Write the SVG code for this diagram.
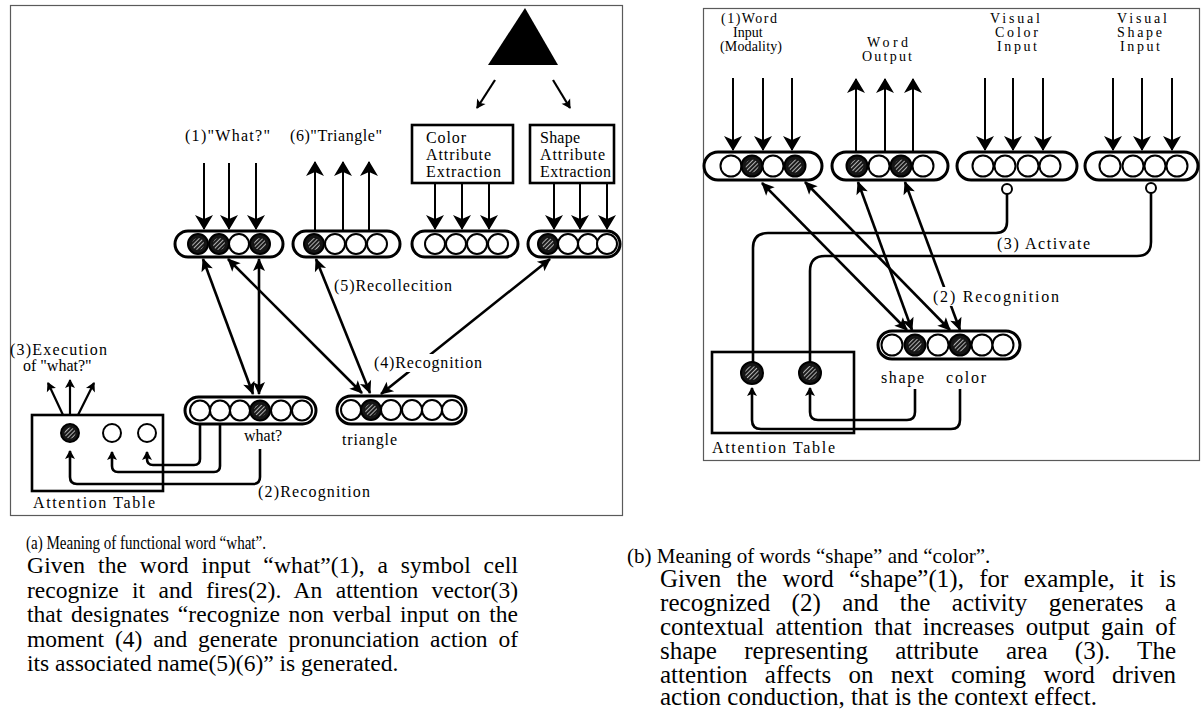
<svg xmlns="http://www.w3.org/2000/svg" width="1202" height="711" viewBox="0 0 1202 711">
  <style>
    .frame { fill: none; stroke: #5a5a5a; stroke-width: 1.2; }
    .cap { fill: #fff; stroke: #000; stroke-width: 3; }
    .cell { fill: #fff; stroke: #000; stroke-width: 2; }
    .hcell { fill: #151515; stroke: #000; stroke-width: 2; }
    .hatch { fill: url(#hatch); }
    .box { fill: #fff; stroke: #000; stroke-width: 2.6; }
    .gate { fill: #fff; stroke: #000; stroke-width: 2; }
    .in { fill: none; stroke: #000; stroke-width: 2; marker-end: url(#ahL); }
    .dbl { fill: none; stroke: #000; stroke-width: 2.6; marker-start: url(#ahM); marker-end: url(#ahM); }
    .wire { fill: none; stroke: #000; stroke-width: 2.6; }
    .wire-a { fill: none; stroke: #000; stroke-width: 2.6; marker-end: url(#ahS); }
    .sm { fill: none; stroke: #000; stroke-width: 2.2; marker-end: url(#ahS); }
    text { font-family: "Liberation Serif", "Times New Roman", serif; fill: #000; }
    .l16 { font-size: 16px; }
    .l14 { font-size: 14px; }
    .ttl-a { font-size: 19.5px; }
    .ttl-b { font-size: 21px; }
    .body-a { font-size: 23.5px; }
    .body-b { font-size: 25px; }
    .bg { fill: #fff; }
  </style>
  <defs>
    <pattern id="hatch" width="3" height="3" patternUnits="userSpaceOnUse" patternTransform="rotate(45)">
      <rect width="3" height="3" fill="#1a1a1a"/>
      <rect width="1" height="3" fill="#b0b0b0"/>
    </pattern>
    <marker id="ahL" viewBox="-17 -10 19 20" refX="-1" refY="0" markerWidth="19" markerHeight="20" markerUnits="userSpaceOnUse" orient="auto">
      <path d="M0,0 L-15,-9 L-11,0 L-15,9 Z" fill="#000"/>
    </marker>
    <marker id="ahM" viewBox="-15 -8 17 16" refX="-1" refY="0" markerWidth="17" markerHeight="16" markerUnits="userSpaceOnUse" orient="auto-start-reverse">
      <path d="M0,0 L-13,-6 L-10,0 L-13,6 Z" fill="#000"/>
    </marker>
    <marker id="ahS" viewBox="-11 -6 12 12" refX="-1" refY="0" markerWidth="12" markerHeight="12" markerUnits="userSpaceOnUse" orient="auto">
      <path d="M0,0 L-9,-5 L-7,0 L-9,5 Z" fill="#000"/>
    </marker>
  </defs>

  <rect width="1202" height="711" fill="#fff"/>

  <!-- panel frames -->
  <rect class="frame" x="10.5" y="5.5" width="612" height="510"/>
  <rect class="frame" x="703.5" y="8.5" width="496" height="452"/>

  <!-- ===== panel (a) nodes ===== -->
  <g id="object-triangle">
    <polygon points="525,8 488,65 558,65" fill="#000"/>
  </g>

  <g id="color-extraction">
    <rect class="box" x="412" y="125" width="101" height="58"/>
    <text class="l16" x="426" y="143" textLength="40" lengthAdjust="spacing">Color</text>
    <text class="l16" x="426" y="160" textLength="65" lengthAdjust="spacing">Attribute</text>
    <text class="l16" x="426" y="177" textLength="75" lengthAdjust="spacing">Extraction</text>
  </g>

  <g id="shape-extraction">
    <rect class="box" x="530" y="125" width="84" height="58"/>
    <text class="l16" x="540" y="143" textLength="40" lengthAdjust="spacing">Shape</text>
    <text class="l16" x="540" y="160" textLength="65" lengthAdjust="spacing">Attribute</text>
    <text class="l16" x="540" y="177" textLength="71" lengthAdjust="spacing">Extraction</text>
  </g>

  <g id="row-word-input-a">
    <rect class="cap" x="175" y="231" width="108" height="26" rx="13"/>
    <circle class="hcell" cx="198" cy="244" r="10"/><circle class="hatch" cx="198" cy="244" r="6"/>
    <circle class="hcell" cx="219" cy="244" r="10"/><circle class="hatch" cx="219" cy="244" r="6"/>
    <circle class="cell" cx="239" cy="244" r="10"/>
    <circle class="hcell" cx="260" cy="244" r="10"/><circle class="hatch" cx="260" cy="244" r="6"/>
    <text class="l16" x="185" y="141" textLength="85" lengthAdjust="spacing">(1)"What?"</text>
  </g>

  <g id="row-word-output-a">
    <rect class="cap" x="293" y="231" width="107" height="26" rx="13"/>
    <circle class="hcell" cx="314" cy="244" r="10"/><circle class="hatch" cx="314" cy="244" r="6"/>
    <circle class="cell" cx="335" cy="244" r="10"/>
    <circle class="cell" cx="356" cy="244" r="10"/>
    <circle class="cell" cx="377" cy="244" r="10"/>
    <text class="l16" x="290" y="141" textLength="92" lengthAdjust="spacing">(6)"Triangle"</text>
  </g>

  <g id="row-color-a">
    <rect class="cap" x="412" y="231" width="106" height="26" rx="13"/>
    <circle class="cell" cx="435" cy="244" r="10"/>
    <circle class="cell" cx="456" cy="244" r="10"/>
    <circle class="cell" cx="477" cy="244" r="10"/>
    <circle class="cell" cx="498" cy="244" r="10"/>
  </g>

  <g id="row-shape-a">
    <rect class="cap" x="528" y="231" width="92" height="26" rx="13"/>
    <circle class="hcell" cx="548" cy="244" r="10"/><circle class="hatch" cx="548" cy="244" r="6"/>
    <circle class="cell" cx="568" cy="244" r="10"/>
    <circle class="cell" cx="588" cy="244" r="10"/>
    <circle class="cell" cx="607" cy="244" r="10"/>
  </g>

  <g id="symbol-what">
    <rect class="cap" x="185" y="397" width="131" height="27" rx="13.5"/>
    <circle class="cell" cx="200" cy="410.5" r="10"/>
    <circle class="cell" cx="220" cy="410.5" r="10"/>
    <circle class="cell" cx="240" cy="410.5" r="10"/>
    <circle class="hcell" cx="260" cy="410.5" r="10"/><circle class="hatch" cx="260" cy="410.5" r="6"/>
    <circle class="cell" cx="281" cy="410.5" r="10"/>
    <circle class="cell" cx="302" cy="410.5" r="10"/>
    <text class="l16" x="244" y="441">what?</text>
  </g>

  <g id="symbol-triangle">
    <rect class="cap" x="337" y="396" width="129" height="28" rx="14"/>
    <circle class="cell" cx="351" cy="410" r="10"/>
    <circle class="hcell" cx="371" cy="410" r="10"/><circle class="hatch" cx="371" cy="410" r="6"/>
    <circle class="cell" cx="391" cy="410" r="10"/>
    <circle class="cell" cx="412" cy="410" r="10"/>
    <circle class="cell" cx="432" cy="410" r="10"/>
    <circle class="cell" cx="452" cy="410" r="10"/>
    <text class="l16" x="342" y="445" textLength="55" lengthAdjust="spacing">triangle</text>
  </g>

  <g id="attention-table-a">
    <rect class="box" x="32" y="415" width="131" height="76"/>
    <circle class="hcell" cx="70" cy="433" r="9"/><circle class="hatch" cx="70" cy="433" r="5.5"/>
    <circle class="cell" cx="112" cy="433" r="9"/>
    <circle class="cell" cx="147" cy="433" r="9"/>
    <text class="l16" x="33" y="508" textLength="122" lengthAdjust="spacing">Attention Table</text>
    <text class="l16" x="10" y="355" textLength="97" lengthAdjust="spacing">(3)Execution</text>
    <text class="l16" x="23" y="371">of "what?"</text>
  </g>

  <!-- ===== panel (b) nodes ===== -->
  <g id="row-word-input-b">
    <rect class="cap" x="704" y="152" width="118" height="28" rx="14"/>
    <circle class="cell" cx="731" cy="166" r="10.5"/>
    <circle class="hcell" cx="752" cy="166" r="10.5"/><circle class="hatch" cx="752" cy="166" r="6.5"/>
    <circle class="cell" cx="773" cy="166" r="10.5"/>
    <circle class="hcell" cx="795" cy="166" r="10.5"/><circle class="hatch" cx="795" cy="166" r="6.5"/>
    <text class="l14" x="721" y="23" textLength="56" lengthAdjust="spacing">(1)Word</text>
    <text class="l14" x="733" y="37">Input</text>
    <text class="l14" x="720" y="51" textLength="62" lengthAdjust="spacing">(Modality)</text>
  </g>

  <g id="row-word-output-b">
    <rect class="cap" x="832" y="152" width="116" height="28" rx="14"/>
    <circle class="hcell" cx="857" cy="166" r="10.5"/><circle class="hatch" cx="857" cy="166" r="6.5"/>
    <circle class="cell" cx="879" cy="166" r="10.5"/>
    <circle class="hcell" cx="901" cy="166" r="10.5"/><circle class="hatch" cx="901" cy="166" r="6.5"/>
    <circle class="cell" cx="923" cy="166" r="10.5"/>
    <text class="l14" x="867" y="47" textLength="41" lengthAdjust="spacing">Word</text>
    <text class="l14" x="862" y="61" textLength="50" lengthAdjust="spacing">Output</text>
  </g>

  <g id="row-visual-color-b">
    <rect class="cap" x="957" y="152" width="120" height="28" rx="14"/>
    <circle class="cell" cx="983" cy="166" r="10.5"/>
    <circle class="cell" cx="1005" cy="166" r="10.5"/>
    <circle class="cell" cx="1028" cy="166" r="10.5"/>
    <circle class="cell" cx="1050" cy="166" r="10.5"/>
    <circle class="gate" cx="1007" cy="189" r="5"/>
    <text class="l14" x="990" y="23" textLength="50" lengthAdjust="spacing">Visual</text>
    <text class="l14" x="995" y="37" textLength="43" lengthAdjust="spacing">Color</text>
    <text class="l14" x="997" y="51" textLength="40" lengthAdjust="spacing">Input</text>
  </g>

  <g id="row-visual-shape-b">
    <rect class="cap" x="1085" y="152" width="113" height="28" rx="14"/>
    <circle class="cell" cx="1110" cy="166" r="10.5"/>
    <circle class="cell" cx="1133" cy="166" r="10.5"/>
    <circle class="cell" cx="1155" cy="166" r="10.5"/>
    <circle class="cell" cx="1177" cy="166" r="10.5"/>
    <circle class="gate" cx="1151" cy="188" r="5"/>
    <text class="l14" x="1117" y="23" textLength="50" lengthAdjust="spacing">Visual</text>
    <text class="l14" x="1117" y="37" textLength="45" lengthAdjust="spacing">Shape</text>
    <text class="l14" x="1120" y="51" textLength="40" lengthAdjust="spacing">Input</text>
  </g>

  <g id="symbol-shape-color">
    <rect class="cap" x="878" y="331" width="142" height="28" rx="14"/>
    <circle class="cell" cx="892" cy="345" r="10.5"/>
    <circle class="hcell" cx="915" cy="345" r="10.5"/><circle class="hatch" cx="915" cy="345" r="6.5"/>
    <circle class="cell" cx="938" cy="345" r="10.5"/>
    <circle class="hcell" cx="960" cy="345" r="10.5"/><circle class="hatch" cx="960" cy="345" r="6.5"/>
    <circle class="cell" cx="982" cy="345" r="10.5"/>
    <circle class="cell" cx="1003" cy="345" r="10.5"/>
    <text class="l16" x="881" y="383" textLength="43" lengthAdjust="spacing">shape</text>
    <text class="l16" x="946" y="383" textLength="40" lengthAdjust="spacing">color</text>
  </g>

  <g id="attention-table-b">
    <rect class="box" x="712" y="352" width="142" height="81"/>
    <circle class="hcell" cx="752" cy="373" r="11"/><circle class="hatch" cx="752" cy="373" r="7"/>
    <circle class="hcell" cx="810" cy="373" r="11"/><circle class="hatch" cx="810" cy="373" r="7"/>
    <text class="l16" x="712" y="453" textLength="123" lengthAdjust="spacing">Attention Table</text>
  </g>

  <!-- ===== connectors ===== -->
  <g id="connectors">
    <!-- (a) object to extraction boxes -->
    <line class="sm" x1="495" y1="80" x2="477" y2="108"/>
    <line class="sm" x1="553" y1="80" x2="570" y2="108"/>
    <!-- (a) word input -->
    <line class="in" x1="204" y1="163" x2="204" y2="229"/>
    <line class="in" x1="229" y1="163" x2="229" y2="229"/>
    <line class="in" x1="256" y1="163" x2="256" y2="229"/>
    <!-- (a) word output -->
    <line class="in" x1="315" y1="231" x2="315" y2="162"/>
    <line class="in" x1="343" y1="231" x2="343" y2="162"/>
    <line class="in" x1="369" y1="231" x2="369" y2="162"/>
    <!-- (a) extraction outputs -->
    <line class="in" x1="435" y1="184" x2="435" y2="229"/>
    <line class="in" x1="462" y1="184" x2="462" y2="229"/>
    <line class="in" x1="489" y1="184" x2="489" y2="229"/>
    <line class="in" x1="554" y1="184" x2="554" y2="229"/>
    <line class="in" x1="580" y1="184" x2="580" y2="229"/>
    <line class="in" x1="607" y1="184" x2="607" y2="229"/>
    <!-- (a) recognition / recollection links -->
    <path class="dbl" d="M203,259 L253,394"/>
    <path class="dbl" d="M259,259 L259,394"/>
    <path class="dbl" d="M228,259 L362,393"/>
    <path class="dbl" d="M316,259 L370,393"/>
    <path class="dbl" d="M550,259 L381,394"/>
    <!-- (a) execution of what? -->
    <line class="sm" x1="63" y1="415" x2="48" y2="383"/>
    <line class="sm" x1="70" y1="415" x2="70" y2="380"/>
    <line class="sm" x1="78" y1="415" x2="94" y2="383"/>
    <!-- (a) symbol cells to attention table -->
    <path class="wire-a" d="M200,424 V459 Q200,465 194,465 H153 Q147,465 147,459 V452"/>
    <path class="wire-a" d="M220,424 V466 Q220,472 214,472 H118 Q112,472 112,466 V452"/>
    <path class="wire-a" d="M260,449 V477 Q260,484 253,484 H77 Q70,484 70,477 V451"/>

    <!-- (b) inputs and outputs -->
    <line class="in" x1="733" y1="78" x2="733" y2="150"/>
    <line class="in" x1="763" y1="78" x2="763" y2="150"/>
    <line class="in" x1="792" y1="78" x2="792" y2="150"/>
    <line class="in" x1="856" y1="152" x2="856" y2="79"/>
    <line class="in" x1="885" y1="152" x2="885" y2="79"/>
    <line class="in" x1="913" y1="152" x2="913" y2="79"/>
    <line class="in" x1="985" y1="78" x2="985" y2="150"/>
    <line class="in" x1="1013" y1="78" x2="1013" y2="150"/>
    <line class="in" x1="1043" y1="78" x2="1043" y2="150"/>
    <line class="in" x1="1113" y1="78" x2="1113" y2="150"/>
    <line class="in" x1="1142" y1="78" x2="1142" y2="150"/>
    <line class="in" x1="1172" y1="78" x2="1172" y2="150"/>
    <!-- (b) activation from attention table -->
    <path class="wire" d="M1007,194 V222 Q1007,233 996,233 H768 Q753,233 753,248 V362"/>
    <path class="wire" d="M1151,193 V242 Q1151,256 1137,256 H825 Q810,256 810,271 V362"/>
    <!-- (b) word rows to shape/color symbols -->
    <path class="dbl" d="M762,183 L907,330"/>
    <path class="dbl" d="M805,182 L950,330"/>
    <path class="dbl" d="M858,182 L912,330"/>
    <path class="dbl" d="M905,182 L960,330"/>
    <!-- (b) symbols to attention table -->
    <path class="wire-a" d="M915,389 V412 Q915,420 907,420 H818 Q810,420 810,412 V388"/>
    <path class="wire-a" d="M960,389 V420 Q960,429 951,429 H761 Q752,429 752,420 V388"/>
  </g>

  <!-- connector labels -->
  <g id="connector-labels">
    <text class="l16" x="334" y="291" textLength="118" lengthAdjust="spacing">(5)Recollecition</text>
    <rect class="bg" x="372" y="354" width="113" height="18"/>
    <text class="l16" x="374" y="368" textLength="108" lengthAdjust="spacing">(4)Recognition</text>
    <text class="l16" x="258" y="497" textLength="112" lengthAdjust="spacing">(2)Recognition</text>
    <text class="l16" x="997" y="249" textLength="93" lengthAdjust="spacing">(3) Activate</text>
    <rect class="bg" x="931" y="287" width="130" height="19"/>
    <text class="l16" x="933" y="302" textLength="126" lengthAdjust="spacing">(2) Recognition</text>
  </g>

  <!-- captions: justified body lines use word spacing, pinned by textLength -->
  <g id="caption-a">
    <text class="ttl-a" x="26" y="549" textLength="240" lengthAdjust="spacingAndGlyphs">(a) Meaning of functional word “what”.</text>
    <text class="body-a" x="27" y="573" word-spacing="6.7" textLength="491" lengthAdjust="spacing">Given the word input “what”(1), a symbol cell</text>
    <text class="body-a" x="27" y="598" word-spacing="7.5" textLength="491" lengthAdjust="spacing">recognize it and fires(2). An attention vector(3)</text>
    <text class="body-a" x="27" y="622" word-spacing="2.6" textLength="491" lengthAdjust="spacing">that designates “recognize non verbal input on the</text>
    <text class="body-a" x="27" y="647" word-spacing="5" textLength="491" lengthAdjust="spacing">moment (4) and generate pronunciation action of</text>
    <text class="body-a" x="27" y="671">its associated name(5)(6)” is generated.</text>
  </g>
  <g id="caption-b">
    <text class="ttl-b" x="627" y="563">(b) Meaning of words “shape” and “color”.</text>
    <text class="body-b" x="660" y="587" word-spacing="9" textLength="516" lengthAdjust="spacing">Given the word “shape”(1), for example, it is</text>
    <text class="body-b" x="660" y="611" word-spacing="15" textLength="516" lengthAdjust="spacing">recognized (2) and the activity generates a</text>
    <text class="body-b" x="660" y="635" word-spacing="5" textLength="516" lengthAdjust="spacing">contextual attention that increases output gain of</text>
    <text class="body-b" x="660" y="659" word-spacing="21" textLength="516" lengthAdjust="spacing">shape representing attribute area (3). The</text>
    <text class="body-b" x="660" y="683" word-spacing="11" textLength="516" lengthAdjust="spacing">attention affects on next coming word driven</text>
    <text class="body-b" x="660" y="705">action conduction, that is the context effect.</text>
  </g>
</svg>
